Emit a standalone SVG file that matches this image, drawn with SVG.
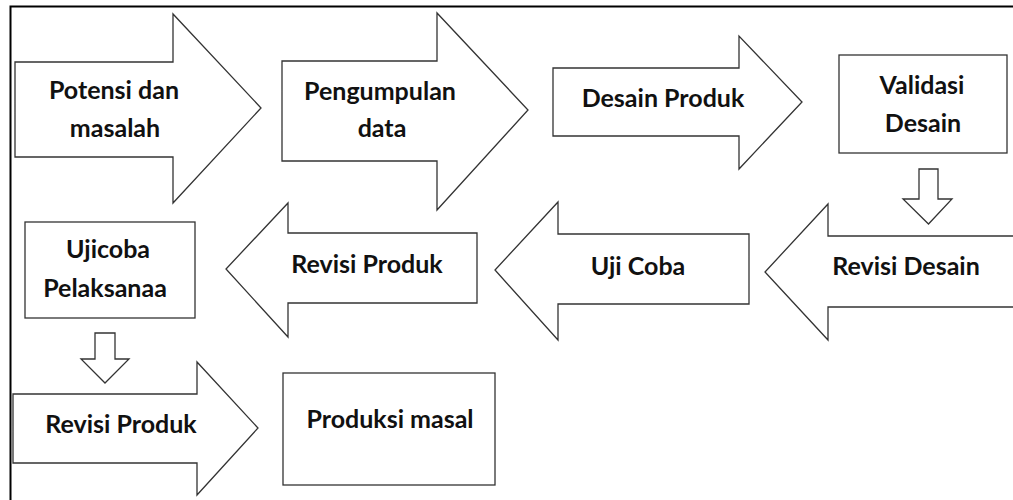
<svg xmlns="http://www.w3.org/2000/svg" width="1013" height="500" viewBox="0 0 1013 500">
<style>
.shape{fill:#fff;stroke:#333;stroke-width:1.3;stroke-linejoin:miter}
.frame{fill:none;stroke:#000;stroke-width:2}
.lbl{font-family:Lato,"Open Sans","Liberation Sans",sans-serif;font-weight:bold;font-size:25px;fill:#111;text-anchor:middle}
</style>
<rect width="1013" height="500" fill="#fff"/>
<path class="frame" d="M10.5,500 V6.5 H1013"/>
<g id="n1">
<polygon class="shape" points="15,62 173,62 173,14 261,108 173,203 173,157 15,157"/>
<text class="lbl" x="114" y="99">Potensi dan</text>
<text class="lbl" x="115" y="137">masalah</text>
</g>
<g id="n2">
<polygon class="shape" points="282,61 437,61 437,13 528,110 437,210 437,161 282,161"/>
<text class="lbl" x="380" y="100">Pengumpulan</text>
<text class="lbl" x="382" y="137">data</text>
</g>
<g id="n3">
<polygon class="shape" points="553,68 739,68 739,36 802,102 739,169 739,136 553,136"/>
<text class="lbl" x="663" y="107">Desain Produk</text>
</g>
<g id="n4">
<rect class="shape" x="839" y="55" width="168" height="98"/>
<text class="lbl" x="922" y="94">Validasi</text>
<text class="lbl" x="923" y="132">Desain</text>
</g>
<g id="n5">
<polygon class="shape" points="1016,236 828,236 828,204 765,272 828,340 828,307 1016,307"/>
<text class="lbl" x="906" y="275">Revisi Desain</text>
</g>
<g id="n6">
<polygon class="shape" points="749,234 558,234 558,202 495,270 558,340 558,304 749,304"/>
<text class="lbl" x="638" y="275">Uji Coba</text>
</g>
<g id="n7">
<polygon class="shape" points="477,233 288,233 288,203 226,269 288,337 288,303 477,303"/>
<text class="lbl" x="367" y="273">Revisi Produk</text>
</g>
<g id="n8">
<rect class="shape" x="25" y="222" width="170" height="96"/>
<text class="lbl" x="108" y="258">Ujicoba</text>
<text class="lbl" x="105" y="297">Pelaksanaa</text>
</g>
<g id="n9">
<polygon class="shape" points="13,394 197,394 197,362 258,428 197,495 197,463 13,463"/>
<text class="lbl" x="121" y="433">Revisi Produk</text>
</g>
<g id="n10">
<rect class="shape" x="283" y="373" width="212" height="112"/>
<text class="lbl" x="390" y="428">Produksi masal</text>
</g>
<g id="connectors">
<polygon class="shape" points="919,169 938,169 938,199 952,199 928.5,224 903,199 919,199"/>
<polygon class="shape" points="95,333 115,333 115,359 129,359 105,383 81,359 95,359"/>
</g>
</svg>
